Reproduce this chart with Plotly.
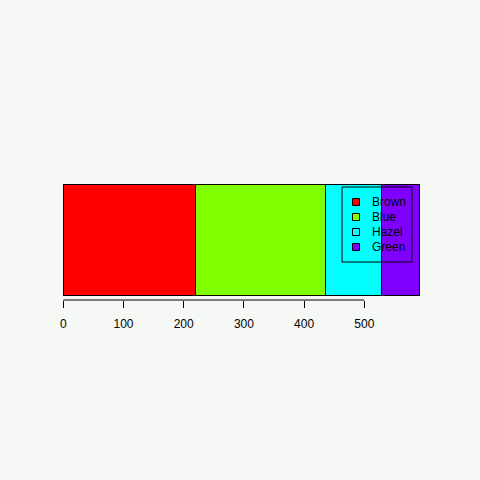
import plotly.graph_objects as go

categories = ["Brown", "Blue", "Hazel", "Green"]
counts = [220, 215, 93, 64]
colors = ["#FF0000", "#80FF00", "#00FFFF", "#8000FF"]
tick_vals = [0, 100, 200, 300, 400, 500]

total = sum(counts)
bg = "#F5F8F5"

W, H = 480, 480
ML, MR, MT, MB = 49, 46, 180, 180
PW, PH = W - ML - MR, H - MT - MB


def px(xp):
    return (xp - ML) / PW


def py(yp):
    return (H - MB - yp) / PH


fig = go.Figure()
for name, val, col in zip(categories, counts, colors):
    fig.add_trace(go.Bar(
        x=[val], y=[0.7], width=[1.0], orientation="h", name=name,
        marker=dict(color=col, line=dict(color="black", width=1)),
        showlegend=False, hoverinfo="skip",
    ))

# axis line spanning first to last tick (R style)
fig.add_shape(type="line", xref="x", yref="paper",
              x0=tick_vals[0], x1=tick_vals[-1], y0=0, y1=0,
              line=dict(color="black", width=1))

# legend (R style, transparent box)
fig.add_shape(type="rect", xref="paper", yref="paper",
              x0=px(342), x1=px(412), y0=py(262), y1=py(187),
              line=dict(color="black", width=1), fillcolor="rgba(0,0,0,0)")
for i, (name, col) in enumerate(zip(categories, colors)):
    cy = 202 + i * 15
    fig.add_shape(type="rect", xref="paper", yref="paper",
                  x0=px(352.5), x1=px(359.5), y0=py(cy + 3.5), y1=py(cy - 3.5),
                  line=dict(color="black", width=1), fillcolor=col)
    fig.add_annotation(xref="paper", yref="paper", x=px(370), y=py(cy),
                       xanchor="left", yanchor="middle", text=name,
                       showarrow=False, font=dict(size=12, color="black"))

pad = 0.04 * total
fig.update_layout(
    width=W, height=H,
    paper_bgcolor=bg, plot_bgcolor=bg,
    barmode="stack", bargap=0,
    margin=dict(l=ML, r=MR, t=MT, b=MB, pad=0),
    font=dict(family="Liberation Sans, Arial, sans-serif", size=12, color="black"),
    xaxis=dict(range=[-pad, total + pad], tickvals=tick_vals, ticks="outside",
               ticklen=7, tickcolor="black", tickwidth=1, showgrid=False,
               zeroline=False, showline=False, fixedrange=True,
               ticklabelstandoff=6),
    yaxis=dict(range=[0.16, 1.24], showticklabels=False, showgrid=False,
               zeroline=False, showline=False, ticks="", fixedrange=True),
    showlegend=False,
)

fig.write_html("out.html", config={"displayModeBar": False, "staticPlot": True})

with open("out.html", "r", encoding="utf-8") as f:
    html = f.read()
html = html.replace("<head>", "<head><style>html,body{margin:0;padding:0;overflow:hidden;background:%s}</style>" % bg, 1)
with open("out.html", "w", encoding="utf-8") as f:
    f.write(html)
